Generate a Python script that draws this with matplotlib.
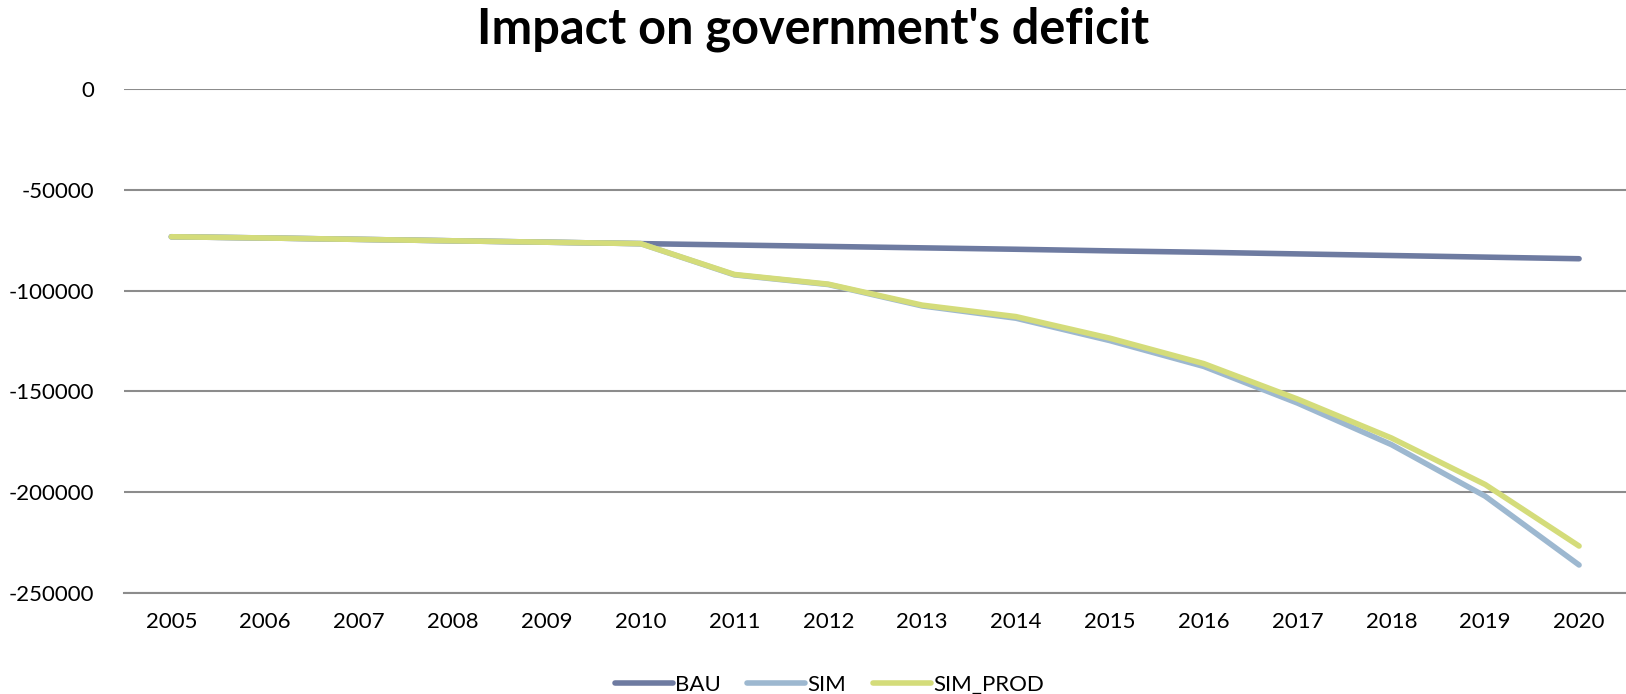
import matplotlib.pyplot as plt

years = ["2005", "2006", "2007", "2008", "2009", "2010", "2011", "2012",
         "2013", "2014", "2015", "2016", "2017", "2018", "2019", "2020"]

bau = [-73300, -73900, -74600, -75300, -76000, -76700, -77400, -78100,
       -78800, -79500, -80300, -81000, -81800, -82600, -83400, -84200]
sim = [-73300, -73900, -74600, -75300, -76000, -76700, -92200, -97000,
       -107600, -113700, -124800, -137600, -155800, -176400, -202000, -236100]
sim_prod = [-73300, -73900, -74600, -75300, -76000, -76700, -92000, -96800,
            -107200, -112900, -123600, -136200, -153800, -173100, -196200, -226700]

plt.rcParams['font.family'] = ['Lato', 'DejaVu Sans']

fig = plt.figure(figsize=(16.26, 6.94), dpi=100)
ax = fig.add_axes([0.0765, 0.1455, 0.9235, 0.7263])

x = range(len(years))
ax.plot(x, bau, color="#6E7BA1", lw=4, solid_capstyle="round", label="BAU")
ax.plot(x, sim, color="#9DB8D0", lw=4, solid_capstyle="round", label="SIM")
ax.plot(x, sim_prod, color="#D4DC7A", lw=4, solid_capstyle="round", label="SIM_PROD")

ax.set_xlim(-0.5, len(years) - 0.5)
ax.set_ylim(-250000, 0)
ax.set_yticks(range(-250000, 1, 50000))
ax.set_yticklabels([str(v) for v in range(-250000, 1, 50000)])
ax.set_xticks(list(x))
ax.set_xticklabels(years)
ax.tick_params(axis="both", length=0, labelsize=16)
ax.tick_params(axis="x", pad=14)
ax.tick_params(axis="y", pad=22)

ax.grid(axis="y", color="#8C8C8C", lw=1.5)
ax.set_axisbelow(True)
for s in ["top", "right", "left"]:
    ax.spines[s].set_visible(False)
ax.spines["bottom"].set_color("#8C8C8C")
ax.spines["bottom"].set_linewidth(1.5)

fig.suptitle("Impact on government's deficit", fontsize=35, fontweight="bold", y=0.99)

fig.legend(loc="lower center", ncol=3, bbox_to_anchor=(0.51, -0.03), frameon=False,
           fontsize=16, handlelength=2.6, handletextpad=0.1, columnspacing=1.2)

fig.savefig("out.png", dpi=100)
